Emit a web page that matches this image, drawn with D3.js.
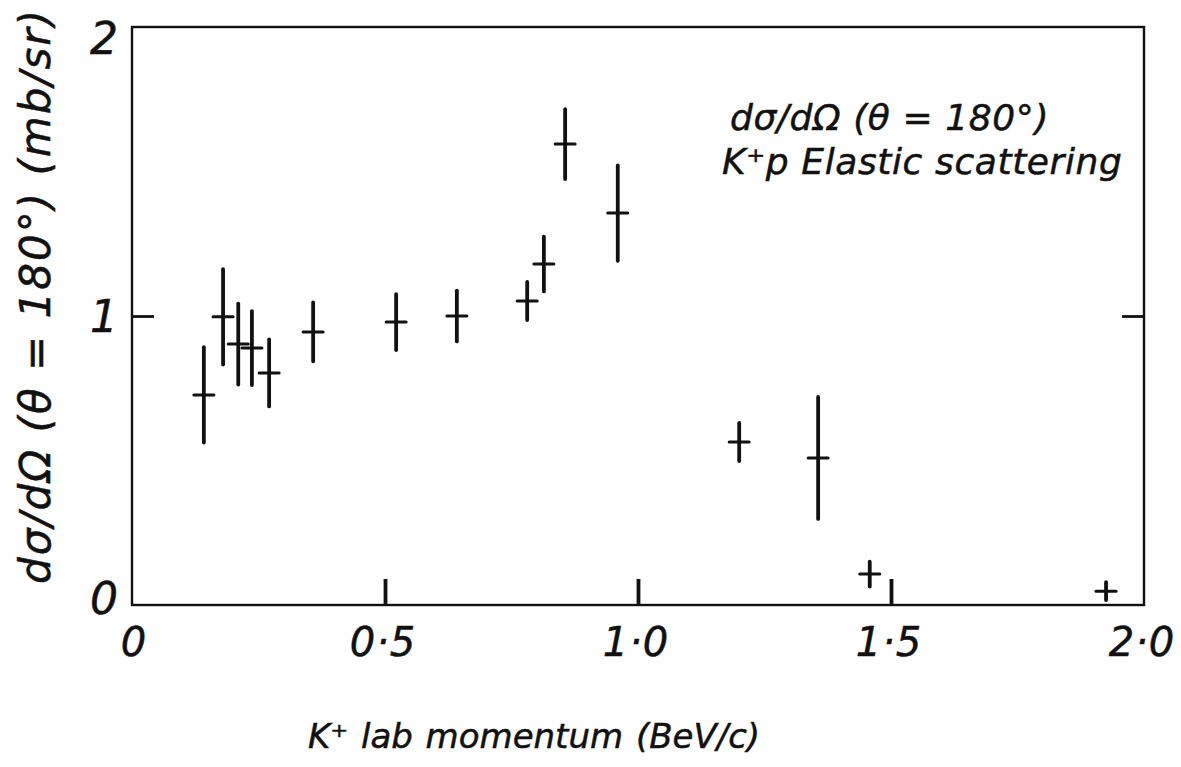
<!DOCTYPE html>
<html>
<head>
<meta charset="utf-8">
<script src="https://cdn.jsdelivr.net/npm/d3@7"></script>
<style>
  html, body { margin: 0; padding: 0; background: #fff; }
  svg { display: block; }
  text { font-family: "DejaVu Sans", "Liberation Sans", sans-serif; font-style: italic; fill: #111; stroke: #111; stroke-width: 0.5; }
</style>
</head>
<body>
<svg id="chart" width="1181" height="767"></svg>
<script>
// K+ p elastic scattering, backward (180°) differential cross section
const momentum = [0.142, 0.180, 0.210, 0.237, 0.271, 0.358, 0.522, 0.642, 0.781, 0.814, 0.856, 0.960, 1.200, 1.356, 1.458, 1.925];
const crossSection = [0.727, 0.997, 0.903, 0.889, 0.803, 0.945, 0.979, 1.000, 1.052, 1.180, 1.595, 1.356, 0.564, 0.509, 0.107, 0.048];
const crossSectionErr = [0.165, 0.165, 0.140, 0.128, 0.116, 0.102, 0.097, 0.088, 0.066, 0.095, 0.121, 0.165, 0.066, 0.211, 0.043, 0.031];

const xTickValues = [0, 0.5, 1.0, 1.5, 2.0];
const xTickLabels = ["0", "0·5", "1·0", "1·5", "2·0"];
const yTickValues = [0, 1, 2];
const yTickLabels = ["0", "1", "2"];

const xTitle = "K⁺ lab momentum (BeV/c)";
const yTitle = "dσ/dΩ (θ = 180°) (mb/sr)";
const noteLines = ["dσ/dΩ  (θ = 180°)", "K⁺p  Elastic  scattering"];

const svg = d3.select("#chart");
const margin = { left: 132, right: 1144, top: 27, bottom: 605 };

const x = d3.scaleLinear().domain([0, 2]).range([margin.left, margin.right]);
const y = d3.scaleLinear().domain([0, 2]).range([margin.bottom, margin.top]);

// frame
svg.append("rect")
  .attr("x", x(0)).attr("y", y(2))
  .attr("width", x(2) - x(0)).attr("height", y(0) - y(2))
  .attr("fill", "none").attr("stroke", "#111").attr("stroke-width", 2.4);

// inward ticks on the bottom axis
const xAxis = d3.axisBottom(x).tickValues([0.5, 1.0, 1.5]).tickSize(-26).tickFormat("");
const gx = svg.append("g").attr("transform", `translate(0,${y(0)})`).call(xAxis);
gx.select(".domain").remove();
gx.selectAll(".tick line").attr("stroke", "#111").attr("stroke-width", 3.8);

// inward ticks at 1 on both vertical edges
const yAxisL = d3.axisLeft(y).tickValues([1]).tickSize(-22).tickFormat("");
const gyl = svg.append("g").attr("transform", `translate(${x(0)},0)`).call(yAxisL);
gyl.select(".domain").remove();
gyl.selectAll(".tick line").attr("stroke", "#111").attr("stroke-width", 2.8);

const yAxisR = d3.axisRight(y).tickValues([1]).tickSize(-22).tickFormat("");
const gyr = svg.append("g").attr("transform", `translate(${x(2)},0)`).call(yAxisR);
gyr.select(".domain").remove();
gyr.selectAll(".tick line").attr("stroke", "#111").attr("stroke-width", 2.8);

// tick labels
svg.append("g").selectAll("text")
  .data(xTickValues)
  .join("text")
  .attr("x", d => d === 0 ? x(d) + 2 : x(d) - 2)
  .attr("y", 656)
  .attr("text-anchor", "middle")
  .attr("font-size", 40)
  .attr("letter-spacing", 1)
  .text((d, i) => xTickLabels[i]);

svg.append("g").selectAll("text")
  .data(yTickValues)
  .join("text")
  .attr("x", 118)
  .attr("y", d => Math.min(Math.max(y(d), 38), 598))
  .attr("dy", "0.36em")
  .attr("text-anchor", "end")
  .attr("font-size", 44)
  .text((d, i) => yTickLabels[i]);

// axis titles
svg.append("text")
  .attr("x", 534).attr("y", 748)
  .attr("text-anchor", "middle")
  .attr("font-size", 34)
  .attr("word-spacing", 2)
  .text(xTitle);

svg.append("text")
  .attr("transform", "translate(50,296) rotate(-90)")
  .attr("text-anchor", "middle")
  .attr("font-size", 42)
  .attr("letter-spacing", 2)
  .text(yTitle);

// annotation
svg.append("g").selectAll("text")
  .data(noteLines)
  .join("text")
  .attr("x", (d, i) => i === 0 ? 730 : 722)
  .attr("y", (d, i) => i === 0 ? 130 : 174)
  .attr("font-size", 36)
  .attr("letter-spacing", 0.6)
  .text(d => d);

// data points with vertical error bars and short horizontal crossbars
const pts = momentum.map((m, i) => ({ m, v: crossSection[i], e: crossSectionErr[i] }));
const gp = svg.append("g").attr("stroke", "#111").attr("stroke-linecap", "round");

gp.selectAll("line.err")
  .data(pts)
  .join("line")
  .attr("class", "err")
  .attr("x1", d => x(d.m)).attr("x2", d => x(d.m))
  .attr("y1", d => y(d.v + d.e)).attr("y2", d => y(d.v - d.e))
  .attr("stroke-width", 3.8);

gp.selectAll("line.bar")
  .data(pts)
  .join("line")
  .attr("class", "bar")
  .attr("x1", d => x(d.m) - 10).attr("x2", d => x(d.m) + 10)
  .attr("y1", d => y(d.v)).attr("y2", d => y(d.v))
  .attr("stroke-width", 3);
</script>
</body>
</html>
